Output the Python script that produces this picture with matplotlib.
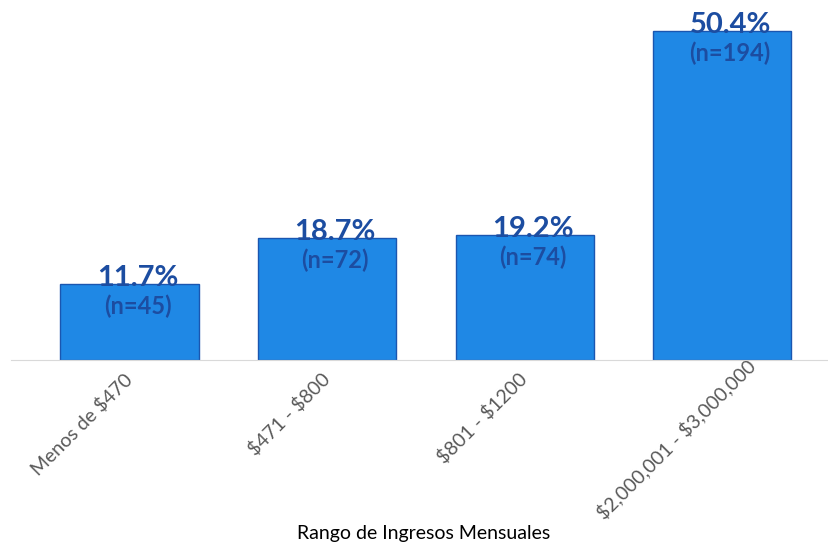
import matplotlib
matplotlib.use("Agg")
import matplotlib.pyplot as plt
import matplotlib.transforms as mtransforms

categorias = [r"Menos de \$470", r"\$471 - \$800", r"\$801 - \$1200", r"\$2,000,001 - \$3,000,000"]
porcentajes = [11.7, 18.7, 19.2, 50.4]
conteos = [45, 72, 74, 194]

plt.rcParams['font.family'] = ['Lato', 'DejaVu Sans']

fig = plt.figure(figsize=(8.29, 5.44), dpi=100)
ax = fig.add_axes([11/829, 184/544, 818/829, 352/544])

x = range(len(categorias))
ax.bar(x, porcentajes, width=0.7, color="#1F88E5", edgecolor="#1A56B0", linewidth=1.0)

for i, (p, n) in enumerate(zip(porcentajes, conteos)):
    ax.text(i + 0.04, p - 0.4, f"{p}%", ha="center", va="baseline",
            fontsize=21, fontweight="bold", color="#1C4DA1")
    ax.text(i + 0.04, p - 3.5, f"(n={n})", ha="center", va="center",
            fontsize=17, fontweight="bold", color="#1C4DA1")

ax.set_xlim(-0.6, 3.54)
ax.set_ylim(0, 53.9)
ax.set_xticks(list(x))
ax.set_xticklabels(categorias, rotation=45, ha="right", va="center", rotation_mode="anchor",
                   fontsize=14, color="#595959")
ax.tick_params(axis="x", length=0, pad=12)
ax.set_yticks([])
for s in ["top", "right", "left"]:
    ax.spines[s].set_visible(False)
ax.spines["bottom"].set_color("#D9D9D9")

# excel coloca la etiqueta larga un poco desplazada
lbl = ax.get_xticklabels()[3]
lbl.set_transform(lbl.get_transform() + mtransforms.ScaledTranslation(0.30, 0.14, fig.dpi_scale_trans))

fig.text(424/829, 1 - 533/544, "Rango de Ingresos Mensuales", ha="center", va="center",
         fontsize=14, color="#000000")

fig.savefig("out.png", dpi=100)
